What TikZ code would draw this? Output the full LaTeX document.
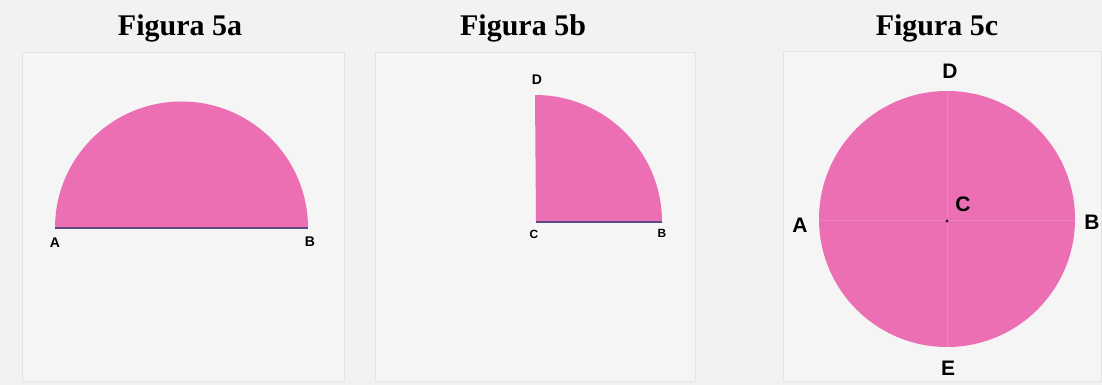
\documentclass[tikz,border=0pt]{standalone}
\usepackage{fontspec}
\setmainfont{Liberation Serif}
\setsansfont{Liberation Sans}
\usepackage{tikz}

\definecolor{paper}{HTML}{F2F2F2}
\definecolor{panel}{HTML}{F5F5F5}
\definecolor{rim}{HTML}{E4E4E4}
\definecolor{rosa}{HTML}{EC6FB4}
\definecolor{fold}{HTML}{EF82BF}
\definecolor{edgeline}{HTML}{5E4A86}

\begin{document}
\begin{tikzpicture}[x=1pt,y=-1pt,
    title/.style={font=\fontsize{30}{30}\selectfont\bfseries},
    small/.style={font=\sffamily\bfseries\fontsize{14}{14}\selectfont},
    big/.style={font=\sffamily\bfseries\fontsize{21}{21}\selectfont},
    frame/.style={draw=rim,fill=panel,line width=1pt}]
    \useasboundingbox (0,0) rectangle (1102,385);
    \fill[paper] (0,0) rectangle (1102,385);
    % panels
    \draw[frame] (22,53) rectangle (344,381);
    \draw[frame] (375,53) rectangle (695,381);
    \draw[frame] (783,52) rectangle (1101.5,381);
    % titles
    \node[title] (t5a) at (180,28) {Figura 5a};
    \node[title] (t5b) at (523,28) {Figura 5b};
    \node[title] (t5c) at (937,28) {Figura 5c};
    % 5a: half circle
    \coordinate (aA) at (55,228);
    \coordinate (aB) at (308,228);
    \fill[rosa] (aA) arc[start angle=180,end angle=360,radius=126.5] -- cycle;
    \draw[edgeline,line width=1.2pt] (aA) -- (aB);
    \node[small] (lA) at (55,243) {A};
    \node[small] (lB) at (310,242) {B};
    % 5b: quarter circle
    \coordinate (bC) at (536,222);
    \coordinate (bB) at (662,222);
    \coordinate (bD) at (536,94);
    \fill[rosa] (bC) -- (bB) arc[start angle=360,end angle=270,radius=127] -- cycle;
    \draw[edgeline,line width=1.2pt] (bC) -- (bB);
    \node[small] (mD) at (537,80) {D};
    \node[small,scale=0.85] (mC) at (534,234) {C};
    \node[small,scale=0.85] (mB) at (662,233) {B};
    % 5c: whole circle
    \coordinate (cC) at (947,219);
    \fill[rosa] (cC) circle[radius=128];
    \coordinate (cA) at (819,220);
    \coordinate (cB) at (1075,220);
    \coordinate (cD) at (947,91);
    \coordinate (cE) at (947,347);
    \draw[fold,line width=1pt] (cA) -- (cB) (cD) -- (cE);
    \fill[black!80!rosa] (947,221) circle[radius=1.6];
    \node[big] (nD) at (950,71) {D};
    \node[big] (nE) at (948,368) {E};
    \node[big] (nA) at (800,225) {A};
    \node[big] (nB) at (1092,222) {B};
    \node[big] (nC) at (963,204) {C};
\end{tikzpicture}
\end{document}
